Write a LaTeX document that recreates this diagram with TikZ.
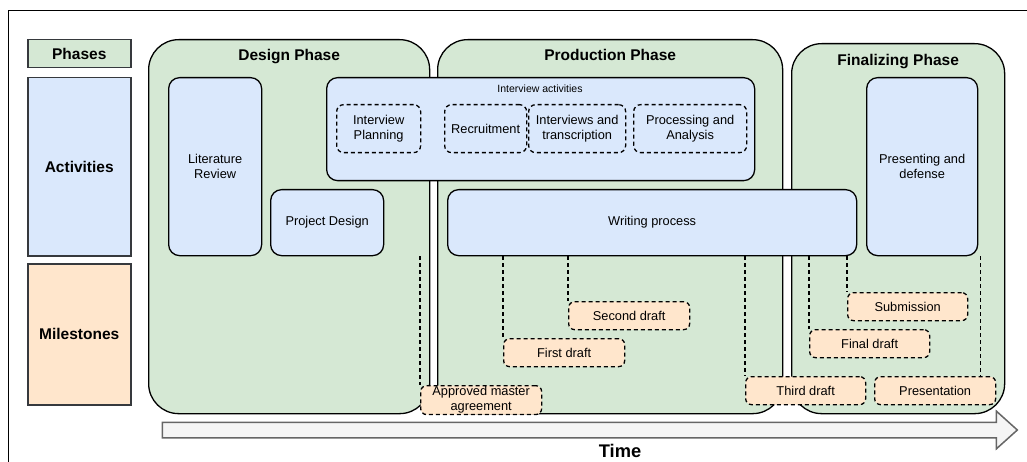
\documentclass[tikz,border=0pt]{standalone}
\usepackage{fontspec}
\setmainfont{Liberation Sans}
\usetikzlibrary{shapes.arrows, positioning, calc}
\definecolor{phasegreen}{HTML}{D5E8D4}
\definecolor{actblue}{HTML}{DAE8FC}
\definecolor{milepeach}{HTML}{FFE6CC}
\definecolor{headgray}{HTML}{36393D}
\definecolor{arrowfill}{HTML}{F5F5F5}
\definecolor{arrowedge}{HTML}{666666}

\newcommand{\plaintext}{\fontsize{12.8}{15}\selectfont}
\newcommand{\headtext}{\fontsize{15.5}{18}\selectfont\bfseries}

\tikzset{
  header/.style={draw=headgray, line width=1.5pt, anchor=north west,
                 minimum width=103pt, font=\headtext},
  phase/.style={draw=black, fill=phasegreen, rounded corners=30pt,
                line width=1.3pt, anchor=north west},
  phasetitle/.style={inner sep=0pt, font=\headtext},
  activity/.style={draw=black, fill=actblue, rounded corners=11pt,
                   line width=1.3pt, anchor=north west, align=center},
  subtask/.style={draw=black, dash pattern=on 4pt off 3pt, rounded corners=7pt,
                  line width=1.3pt, anchor=north west, align=center,
                  minimum height=48pt, inner sep=1pt},
  milestone/.style={draw=black, fill=milepeach, dash pattern=on 4pt off 3pt,
                    rounded corners=6pt, line width=1.3pt, anchor=north west,
                    minimum height=28pt, align=center, inner sep=1pt},
  link/.style={draw=black, dash pattern=on 4pt off 3pt, line width=1.3pt},
  timearrow/.style={single arrow, draw=arrowedge, fill=arrowfill, line width=1.5pt,
                    inner sep=7pt, minimum width=36pt, single arrow head extend=11pt,
                    single arrow tip angle=84, minimum height=855pt}
}

\begin{document}
\begin{tikzpicture}[x=1pt, y=-1pt, font=\plaintext]
  \useasboundingbox (0,0) rectangle (1027,462);
  \draw[line width=1pt] (8,462) -- (8,11) -- (1027,11);

  % row headers
  \node[header, fill=phasegreen, minimum height=28pt] (phases) at (27,39) {Phases};
  \node[header, fill=actblue, minimum height=178pt] (activities) at (27,77) {Activities};
  \node[header, fill=milepeach, minimum height=141pt] (milestones) at (27,263) {Milestones};

  % phases
  \node[phase, minimum width=281pt, minimum height=374pt] (design) at (148,39) {};
  \node[phase, minimum width=345pt, minimum height=374pt] (production) at (437,39) {};
  \node[phase, minimum width=213pt, minimum height=370pt] (finalizing) at (791,43) {};
  \node[phasetitle, below=10pt of design.north] (designtitle) {Design Phase};
  \node[phasetitle, below=10pt of production.north] (productiontitle) {Production Phase};
  \node[phasetitle, below=11pt of finalizing.north] (finalizingtitle) {Finalizing Phase};

  % activities
  \node[activity, minimum width=93pt, minimum height=178pt] (litreview) at (168,77)
    {Literature\\Review};
  \node[activity, minimum width=113pt, minimum height=66pt] (projdesign) at (270,189)
    {Project Design};
  \node[activity, minimum width=428pt, minimum height=103pt] (interviews) at (326,77) {};
  \node[font=\fontsize{10.5}{12}\selectfont] (interviewtitle) at (540,89) {Interview activities};
  \node[subtask, minimum width=84pt] (planning) at (336,104) {Interview\\Planning};
  \node[subtask, minimum width=82pt] (recruitment) at (444,104) {Recruitment};
  \node[subtask, minimum width=97pt] (transcription) at (528,104) {Interviews and\\transcription};
  \node[subtask, minimum width=113pt] (analysis) at (633,104) {Processing and\\Analysis};
  \node[activity, minimum width=409pt, minimum height=66pt] (writing) at (447,189)
    {Writing process};
  \node[activity, minimum width=111pt, minimum height=178pt] (presenting) at (866,77)
    {Presenting and\\defense};

  % milestones
  \node[milestone, minimum width=121pt] (approved) at (420,385) {Approved master\\agreement};
  \node[milestone, minimum width=121pt] (first) at (503,338) {First draft};
  \node[milestone, minimum width=121pt] (second) at (568,301) {Second draft};
  \node[milestone, minimum width=120pt] (third) at (745,376) {Third draft};
  \node[milestone, minimum width=120pt] (submission) at (847,292) {Submission};
  \node[milestone, minimum width=120pt] (final) at (809,329) {Final draft};
  \node[milestone, minimum width=121pt] (presentation) at (874,376) {Presentation};
  \coordinate (presentationtop) at ($(presentation.north east)+(-16,0)$);

  % milestone links
  \draw[link] (projdesign.south -| approved.north west) -- (approved.north west);
  \draw[link] (writing.south -| first.north west) -- (first.north west);
  \draw[link] (writing.south -| second.north west) -- (second.north west);
  \draw[link] (writing.south -| third.north west) -- (third.north west);
  \draw[link] (writing.south -| final.north west) -- (final.north west);
  \draw[link] (writing.south -| submission.north west) -- (submission.north west);
  \draw[link] (presenting.south -| presentationtop) -- (presentationtop);

  % time axis
  \node[timearrow] (timeline) at (585.5,430) {};
  \node[font=\fontsize{18.3}{20}\selectfont\bfseries] (timelabel) at (620,451) {Time};
\end{tikzpicture}
\end{document}
